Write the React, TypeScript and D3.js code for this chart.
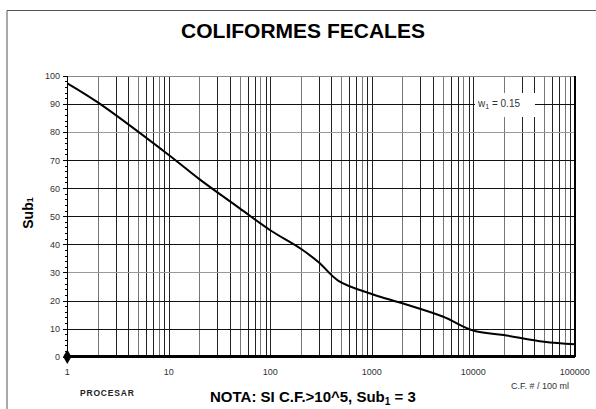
import React from "react";
import * as d3 from "d3";

const cfValues = [1, 2, 10, 20, 50, 100, 200, 300, 470, 1000, 2000, 5000, 10000, 20000, 50000, 100000];
const subValues = [97.3, 90.5, 71.8, 63.2, 52.8, 45, 38.4, 33.6, 27, 22.3, 19, 14.3, 9.3, 7.7, 5.3, 4.4];
const yTicks = [0, 10, 20, 30, 40, 50, 60, 70, 80, 90, 100];
const xTickLabels = ["1", "10", "100", "1000", "10000", "100000"];
const xTickValues = [1, 10, 100, 1000, 10000, 100000];

export default function App() {
  const W = 596, H = 409;
  const x = d3.scaleLog().domain([1, 100000]).range([67.3, 574.7]);
  const y = d3.scaleLinear().domain([0, 100]).range([356.7, 75.7]);
  const data = cfValues.map((c, i) => [c, subValues[i]] as [number, number]);
  const line = d3.line<[number, number]>().x(d => x(d[0])).y(d => y(d[1])).curve(d3.curveCatmullRom.alpha(0.5));
  const minor: number[] = [];
  for (let e = 0; e < 5; e++) for (let m = 1; m <= 9; m++) minor.push(m * Math.pow(10, e));
  minor.push(100000);
  const yMinor = d3.range(0, 101, 2);
  const font = "Arial, 'Liberation Sans', sans-serif";
  const [x0, x1] = x.range();
  const [y0, y1] = y.range();
  return (
    <svg width={W} height={H} style={{ position: "absolute", left: 0, top: 0, background: "#fff" }} fontFamily={font}>
      <rect x={0} y={0} width={W} height={H} fill="#fff" />
      {/* outer frame */}
      <line x1={7} y1={10.5} x2={W} y2={10.5} stroke="#555" />
      <line x1={7} y1={10.5} x2={7} y2={H} stroke="#555" />
      <text x={303} y={38} textAnchor="middle" fontSize={21} fontWeight="bold">COLIFORMES FECALES</text>
      {/* grid */}
      <g shapeRendering="crispEdges">
        {minor.map((v, i) => (
          <line key={"v" + i} x1={Math.round(x(v)) + 0.5} x2={Math.round(x(v)) + 0.5} y1={y1} y2={y0} stroke={i % 3 === 1 ? "#777" : "#222"} strokeWidth={1} />
        ))}
        {yTicks.map((v, i) => (
          <line key={"h" + i} x1={x0} x2={x1} y1={Math.round(y(v)) + 0.5} y2={Math.round(y(v)) + 0.5} stroke={v === 100 ? "#888" : v === 80 || v === 30 ? "#999" : "#111"} strokeWidth={1} />
        ))}
        <line x1={x1} x2={x1} y1={y1} y2={y0} stroke="#000" strokeWidth={2} />
        <line x1={x0} x2={x0} y1={y1} y2={y0 + 2} stroke="#000" strokeWidth={1} />
        {yMinor.map((v, i) => (
          <line key={"m" + i} x1={x0 - (v % 10 === 0 ? 4 : 2)} x2={x0} y1={Math.round(y(v)) + 0.5} y2={Math.round(y(v)) + 0.5} stroke="#000" />
        ))}
        <line x1={x0} x2={x1} y1={y0} y2={y0} stroke="#000" strokeWidth={2.5} />
        {/* w1 label box */}
        <rect x={475} y={93} width={60} height={24} fill="#fff" />
      </g>
      <text x={478} y={107} fontSize={10} fill="#333">w<tspan fontSize={7} dy={2}>1</tspan><tspan dy={-2}> = 0.15</tspan></text>
      <path d={line(data) || ""} fill="none" stroke="#000" strokeWidth={2} />
      <path d={d3.symbol(d3.symbolDiamond, 60)() || ""} transform={`translate(${x(1)},${y(0)})`} fill="#000" />
      {/* y ticks */}
      {yTicks.map((v, i) => (
        <text key={"yt" + i} x={60} y={y(v) + 3.5} textAnchor="end" fontSize={9} fill="#333">{v}</text>
      ))}
      {xTickValues.map((v, i) => (
        <text key={"xt" + i} x={x(v)} y={375} textAnchor="middle" fontSize={9} fill="#333">{xTickLabels[i]}</text>
      ))}
      <text x={569} y={389} textAnchor="end" fontSize={9} fill="#333">C.F. # / 100 ml</text>
      <text transform="translate(33,213) rotate(-90)" textAnchor="middle" fontSize={14} fontWeight="bold">Sub<tspan fontSize={9} dy={0}>1</tspan></text>
      <text x={80} y={396} fontSize={8.5} fontWeight="bold" letterSpacing={0.8} fill="#222">PROCESAR</text>
      <text x={210} y={402} fontSize={15} fontWeight="bold">NOTA: SI C.F.&gt;10^5, Sub<tspan fontSize={10} dy={3}>1</tspan><tspan dy={-3}> = 3</tspan></text>
    </svg>
  );
}
